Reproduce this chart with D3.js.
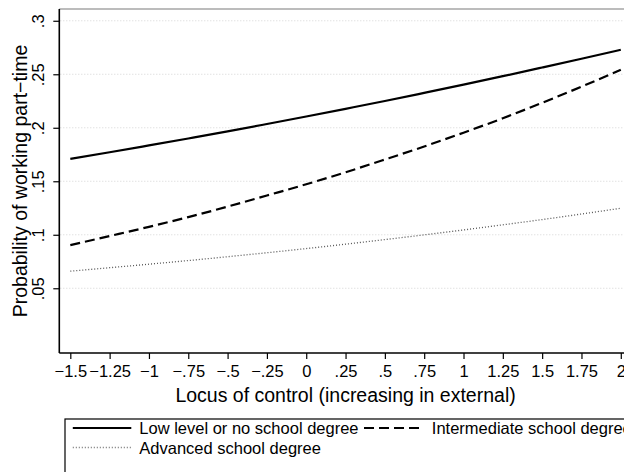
<!DOCTYPE html>
<html>
<head>
<meta charset="utf-8">
<script src="https://cdn.jsdelivr.net/npm/d3@7"></script>
<style>
  html, body { margin: 0; padding: 0; background: #fff; }
  svg { display: block; font-family: "Liberation Sans", Arial, Helvetica, sans-serif; }
</style>
</head>
<body>
<svg id="chart" width="624" height="472"></svg>
<script>
// Predicted probability of part-time work by locus of control, per school degree
const locus = [-1.5, -1.25, -1, -0.75, -0.5, -0.25, 0, 0.25, 0.5, 0.75, 1, 1.25, 1.5, 1.75, 2];
const lowDegree = [0.1710, 0.1771, 0.1835, 0.1900, 0.1966, 0.2035, 0.2105, 0.2177, 0.2250, 0.2326, 0.2403, 0.2482, 0.2563, 0.2645, 0.2729];
const intermediateDegree = [0.0903, 0.0988, 0.1074, 0.1165, 0.1263, 0.1367, 0.1472, 0.1584, 0.1703, 0.1825, 0.1954, 0.2089, 0.2233, 0.2384, 0.2542];
const advancedDegree = [0.0660, 0.0692, 0.0725, 0.0759, 0.0795, 0.0832, 0.0871, 0.0912, 0.0955, 0.0999, 0.1045, 0.1093, 0.1142, 0.1194, 0.1248];

const seriesNames = ["Low level or no school degree", "Intermediate school degree", "Advanced school degree"];

const xTicks = [-1.5, -1.25, -1, -0.75, -0.5, -0.25, 0, 0.25, 0.5, 0.75, 1, 1.25, 1.5, 1.75, 2];
const xTickLabels = ["\u22121.5", "\u22121.25", "\u22121", "\u2212.75", "\u2212.5", "\u2212.25", "0", ".25", ".5", ".75", "1", "1.25", "1.5", "1.75", "2"];
const yTicks = [0.05, 0.1, 0.15, 0.2, 0.25, 0.3];
const yTickLabels = [".05", ".1", ".15", ".2", ".25", ".3"];

const xTitle = "Locus of control (increasing in external)";
const yTitle = "Probability of working part\u2212time";

const svg = d3.select("#chart");

const plot = { left: 59.3, right: 631.8, top: 9, bottom: 353 };

const x = d3.scaleLinear().domain([-1.57, 2.07]).range([plot.left, plot.right]);
const y = d3.scaleLinear().domain([-0.0105, 0.311]).range([plot.bottom, plot.top]);

// horizontal dotted grid
svg.append("g")
  .selectAll("line")
  .data(yTicks)
  .join("line")
  .attr("x1", plot.left + 1)
  .attr("x2", 624)
  .attr("y1", d => y(d))
  .attr("y2", d => y(d))
  .attr("stroke", "#d4d4d4")
  .attr("stroke-width", 1)
  .attr("stroke-dasharray", "1,2");

// top border of plot region
svg.append("line")
  .attr("x1", plot.left).attr("x2", 624)
  .attr("y1", plot.top).attr("y2", plot.top)
  .attr("stroke", "#7a7a7a").attr("stroke-width", 1.2);

// x axis
const xAxis = d3.axisBottom(x)
  .tickValues(xTicks)
  .tickSize(6)
  .tickSizeOuter(0)
  .tickPadding(6)
  .tickFormat((d, i) => xTickLabels[i]);

const gx = svg.append("g")
  .attr("transform", `translate(0,${plot.bottom})`)
  .call(xAxis);
gx.select(".domain").attr("stroke", "#000").attr("stroke-width", 1.6)
  .attr("d", `M${plot.left},0H624`);
gx.selectAll(".tick line").attr("stroke", "#000").attr("stroke-width", 1.2);
gx.selectAll(".tick text")
  .attr("font-size", 16.5)
  .attr("font-family", "Liberation Sans, Arial, sans-serif")
  .attr("fill", "#000");

// y axis
const yAxis = d3.axisLeft(y)
  .tickValues(yTicks)
  .tickSize(6)
  .tickSizeOuter(0)
  .tickFormat((d, i) => yTickLabels[i]);

const gy = svg.append("g")
  .attr("transform", `translate(${plot.left},0)`)
  .call(yAxis);
gy.select(".domain").attr("stroke", "#000").attr("stroke-width", 1.6)
  .attr("d", `M0,${plot.top}V${plot.bottom}`);
gy.selectAll(".tick line").attr("stroke", "#000").attr("stroke-width", 1.2);
gy.selectAll(".tick text")
  .attr("font-size", 16.5)
  .attr("font-family", "Liberation Sans, Arial, sans-serif")
  .attr("fill", "#000")
  .attr("x", null).attr("dy", null)
  .attr("text-anchor", "middle")
  .attr("transform", "translate(-15,0) rotate(-90)");

// axis titles
svg.append("text")
  .attr("x", (plot.left + plot.right) / 2)
  .attr("y", 402)
  .attr("text-anchor", "middle")
  .attr("font-size", 19.5)
  .text(xTitle);

svg.append("text")
  .attr("transform", `translate(27,${(plot.top + plot.bottom) / 2}) rotate(-90)`)
  .attr("text-anchor", "middle")
  .attr("font-size", 19.5)
  .text(yTitle);

// prediction lines
const styles = [
  { stroke: "#000", width: 2.2, dash: null },
  { stroke: "#000", width: 2.2, dash: "10,5" },
  { stroke: "#555", width: 1.3, dash: "1,2" }
];
const seriesValues = [lowDegree, intermediateDegree, advancedDegree];

const line = d3.line()
  .x(d => x(d[0]))
  .y(d => y(d[1]))
  .curve(d3.curveMonotoneX);

seriesValues.forEach((vals, i) => {
  svg.append("path")
    .datum(locus.map((l, j) => [l, vals[j]]))
    .attr("fill", "none")
    .attr("stroke", styles[i].stroke)
    .attr("stroke-width", styles[i].width)
    .attr("stroke-dasharray", styles[i].dash)
    .attr("d", line);
});

// legend
const legend = svg.append("g");
legend.append("rect")
  .attr("x", 65).attr("y", 419)
  .attr("width", 600).attr("height", 80)
  .attr("fill", "#fff")
  .attr("stroke", "#000").attr("stroke-width", 1.2);

const legendItems = [
  { x0: 72.8, x1: 131.3, y: 428, tx: 139.3, ty: 434 },
  { x0: 364, x1: 421, y: 428, tx: 431.8, ty: 434 },
  { x0: 72.8, x1: 131.3, y: 447.5, tx: 139.3, ty: 453.5 }
];
legendItems.forEach((it, i) => {
  legend.append("line")
    .attr("x1", it.x0).attr("x2", it.x1)
    .attr("y1", it.y).attr("y2", it.y)
    .attr("stroke", i === 2 ? "#777" : styles[i].stroke)
    .attr("stroke-width", styles[i].width)
    .attr("stroke-dasharray", styles[i].dash);
  legend.append("text")
    .attr("x", it.tx).attr("y", it.ty)
    .attr("font-size", 16.5)
    .text(seriesNames[i]);
});
</script>
</body>
</html>
